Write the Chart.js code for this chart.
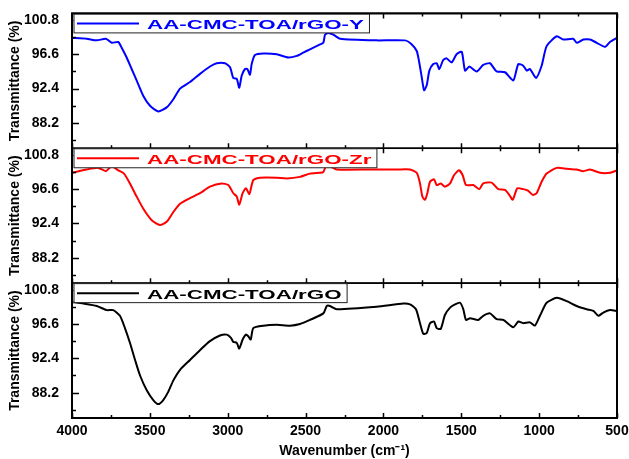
<!DOCTYPE html>
<html>
<head>
<meta charset="utf-8">
<title>FTIR spectra</title>
<script src="https://cdn.jsdelivr.net/npm/chart.js@4.4.1/dist/chart.umd.min.js"></script>
<style>
body { margin: 0; background: #fff; }
canvas { display: block; }
</style>
</head>
<body>
<canvas id="myChart" width="629" height="459"></canvas>
<script>

// wavenumber (cm-1) / transmittance (%) pairs for each sample
const wnY = [4000,3906,3841,3782,3745,3703,3681,3649,3617,3585,3542,3499,3446,3392,3349,3306,3242,3178,3114,3071,3017,2985,2964,2942,2926,2910,2889,2874,2857,2846,2825,2771,2685,2611,2557,2515,2472,2407,2386,2375,2354,2322,2279,2043,1861,1818,1786,1770,1754,1739,1722,1705,1680,1658,1641,1616,1594,1562,1530,1497,1476,1448,1401,1359,1316,1273,1219,1166,1134,1102,1080,1059,1020,984,952,887,845,781,759,716,673,630,577,545,500];
const transY = [98.6,98.5,98.3,98.5,98.0,98.1,97.4,96.2,94.8,93.4,91.5,90.3,89.6,90.1,91.1,92.4,93.2,94.2,95.1,95.5,95.5,95.0,93.7,93.6,92.5,94.0,94.8,94.8,94.1,95.4,96.5,96.7,96.6,96.2,96.4,96.8,97.2,97.8,98.0,99.0,99.2,99.0,98.5,98.3,98.3,97.8,97.0,95.6,93.8,92.2,92.8,94.6,95.4,95.5,94.8,95.9,96.1,95.6,96.6,96.9,94.6,95.1,94.5,95.3,95.5,94.5,94.4,93.4,95.4,95.2,94.6,94.8,93.7,95.2,97.6,98.8,98.4,98.5,98.0,98.4,98.4,98.0,97.5,98.1,98.6];

const wnZr = [4000,3906,3831,3782,3745,3703,3666,3628,3585,3542,3488,3435,3392,3349,3306,3242,3178,3114,3039,2996,2964,2942,2926,2904,2883,2861,2836,2793,2685,2621,2536,2472,2407,2386,2369,2343,2300,2086,1915,1829,1786,1765,1750,1733,1718,1701,1675,1658,1632,1605,1572,1547,1515,1491,1470,1423,1384,1359,1305,1262,1219,1192,1170,1140,1102,1070,1041,1016,984,952,887,823,759,716,673,609,545,500];
const transZr = [98.6,99.0,99.2,98.8,99.4,98.9,98.5,97.3,95.7,94.2,92.8,92.2,92.6,93.8,94.8,95.5,96.1,96.9,97.3,97.1,96.1,95.7,94.7,96.1,96.7,96.0,97.7,98.0,98.0,97.9,98.1,98.5,98.6,98.7,99.4,99.4,99.0,99.0,99.0,99.0,98.6,97.3,95.7,95.3,96.1,97.5,97.8,97.1,97.3,96.9,97.3,98.3,98.9,98.3,97.1,97.1,96.6,97.3,97.4,96.6,96.5,95.9,95.3,96.7,96.6,96.4,95.9,96.1,97.5,98.5,99.2,99.1,99.0,98.8,99.0,98.6,98.6,98.9];

const wnGO = [4000,3927,3841,3777,3735,3692,3660,3628,3595,3563,3520,3478,3446,3414,3382,3349,3306,3242,3178,3114,3050,3006,2979,2964,2942,2926,2904,2883,2868,2852,2836,2771,2685,2600,2536,2472,2386,2364,2343,2300,2043,1872,1829,1791,1765,1744,1722,1701,1675,1658,1632,1605,1572,1540,1508,1487,1470,1444,1391,1359,1316,1273,1230,1166,1134,1102,1059,1027,995,952,887,823,759,695,652,620,588,545,500];
const transGO = [99.3,99.1,98.8,98.3,98.3,97.6,96.1,94.3,92.2,90.3,88.5,87.3,86.8,87.3,88.3,89.7,91.0,92.2,93.4,94.5,95.2,95.3,94.9,94.4,94.3,93.6,94.7,95.3,95.1,94.7,96.1,96.4,96.5,96.4,96.6,97.1,97.9,98.8,98.8,98.4,98.7,99.1,99.0,98.4,96.7,95.4,95.5,96.7,96.9,96.1,96.0,97.7,98.6,99.0,99.2,98.4,97.1,97.3,97.1,97.6,97.9,97.2,97.1,96.2,96.9,96.7,96.8,96.4,97.6,99.2,99.8,99.4,98.8,98.4,98.2,97.6,98.0,98.3,98.2];

const sampleNames = ["AA-CMC-TOA/rGO-Y", "AA-CMC-TOA/rGO-Zr", "AA-CMC-TOA/rGO"];
const sampleColors = ["#0000ff", "#ff0000", "#000000"];

const xTicks = [4000, 3500, 3000, 2500, 2000, 1500, 1000, 500];
const xMinorTicks = [3750, 3250, 2750, 2250, 1750, 1250, 750];
const yTicks = [88.2, 92.4, 96.6, 100.8];
const yMinorTicks = [86.1, 90.3, 94.5, 98.7];

const yMin = 85.1;
const yMax = 101.6;
const font = '"Liberation Sans", Arial, sans-serif';


function toPoints(wn, t){
	let pts = [];
	for(let i = 0; i < wn.length; i++){
		pts.push({x: wn[i], y: t[i]});
	}
	return pts;
}

// one panel per sample, top to bottom
let panels = [
	{axis: "yY", name: sampleNames[0], color: sampleColors[0], data: toPoints(wnY, transY)},
	{axis: "yZr", name: sampleNames[1], color: sampleColors[1], data: toPoints(wnZr, transZr)},
	{axis: "yGO", name: sampleNames[2], color: sampleColors[2], data: toPoints(wnGO, transGO)}
];

function panelAxis(){
	return {
		type: "linear",
		position: "left",
		stack: "spectra",
		stackWeight: 1,
		min: yMin,
		max: yMax,
		afterBuildTicks: s => { s.ticks = yTicks.map(v => ({value: v})); },
		afterFit: s => { s.width = 72; },
		grid: {display: false},
		border: {display: false},
		ticks: {
			color: "#000",
			padding: 5,
			font: {family: font, size: 14, weight: "bold"},
			callback: v => v.toFixed(1)
		},
		title: {
			display: true,
			text: "Transmittance (%)",
			color: "#000",
			padding: {top: 7, bottom: 0},
			font: {family: font, size: 14, weight: "bold"}
		}
	};
}

// frames, inward ticks and the boxed legend of each panel
const panelDecor = {
	id: "panelDecor",
	afterDraw(chart){
		const ctx = chart.ctx;
		const area = chart.chartArea;
		const xs = chart.scales.x;
		const stretch = 1.72;
		ctx.save();
		panels.forEach(p => {
			const ys = chart.scales[p.axis];
			const top = ys.top, bottom = ys.bottom;

			ctx.strokeStyle = "#000";
			ctx.lineWidth = 1.5;
			ctx.strokeRect(area.left, top, area.right - area.left, bottom - top);

			ctx.lineWidth = 1.5;
			ctx.beginPath();
			xTicks.forEach(v => {
				let x = Math.round(xs.getPixelForValue(v)) + 0.5;
				ctx.moveTo(x, top); ctx.lineTo(x, top + 5);
				ctx.moveTo(x, bottom); ctx.lineTo(x, bottom - 5);
			});
			xMinorTicks.forEach(v => {
				let x = Math.round(xs.getPixelForValue(v)) + 0.5;
				ctx.moveTo(x, top); ctx.lineTo(x, top + 3);
				ctx.moveTo(x, bottom); ctx.lineTo(x, bottom - 3);
			});
			yTicks.forEach(v => {
				let y = Math.round(ys.getPixelForValue(v)) + 0.5;
				ctx.moveTo(area.left, y); ctx.lineTo(area.left + 7, y);
			});
			yMinorTicks.forEach(v => {
				let y = Math.round(ys.getPixelForValue(v)) + 0.5;
				ctx.moveTo(area.left, y); ctx.lineTo(area.left + 4, y);
			});
			ctx.stroke();

			// legend
			ctx.font = "bold 13px " + font;
			let textX = area.left + 75;
			let w = ctx.measureText(p.name).width * stretch;
			let boxL = area.left + 1.5, boxR = textX + w + 5;
			ctx.fillStyle = "#fff";
			ctx.fillRect(boxL, top + 0.5, boxR - boxL, 19);
			ctx.strokeStyle = "#222";
			ctx.lineWidth = 1;
			ctx.strokeRect(boxL + 0.5, top + 0.5, boxR - boxL, 19);

			ctx.strokeStyle = p.color;
			ctx.lineWidth = 2;
			ctx.beginPath();
			ctx.moveTo(area.left + 5, top + 10);
			ctx.lineTo(area.left + 67, top + 10);
			ctx.stroke();

			ctx.fillStyle = p.color;
			ctx.textBaseline = "alphabetic";
			ctx.save();
			ctx.translate(textX, top + 15.5);
			ctx.scale(stretch, 1);
			ctx.fillText(p.name, 0, 0);
			ctx.restore();
		});
		ctx.strokeStyle = "#000";
		ctx.lineWidth = 2;
		ctx.strokeRect(area.left, area.top, area.right - area.left, area.bottom - area.top);
		ctx.restore();
	}
};

function drawSpectra(){
	const ctx = document.getElementById("myChart").getContext("2d");

	let datasets = panels.map(p => ({
		label: p.name,
		data: p.data,
		yAxisID: p.axis,
		borderColor: p.color,
		borderWidth: 2,
		pointRadius: 0,
		tension: 0.2,
		fill: false
	}));

	let scales = {
		x: {
			type: "linear",
			position: "bottom",
			reverse: true,
			min: 500,
			max: 4000,
			afterBuildTicks: s => { s.ticks = xTicks.map(v => ({value: v})); },
			afterFit: s => { s.height = 41; },
			grid: {display: false},
			border: {display: false},
			ticks: {
				color: "#000",
				padding: -3,
				maxRotation: 0,
				autoSkip: false,
				font: {family: font, size: 14, weight: "bold"},
				callback: v => String(v)
			},
			title: {
				display: true,
				text: "Wavenumber (cm\u207B\u00B9)",
				color: "#000",
				padding: {top: 0, bottom: -1},
				font: {family: font, size: 14, weight: "bold"}
			}
		}
	};
	// stacked left axes are laid out last-defined first, so add the bottom panel first
	panels.slice().reverse().forEach(p => { scales[p.axis] = panelAxis(); });

	return new Chart(ctx, {
		type: "line",
		data: {datasets: datasets},
		options: {
			responsive: false,
			animation: false,
			devicePixelRatio: 1,
			layout: {padding: {top: 12, right: 12, left: 0, bottom: 0}},
			plugins: {legend: {display: false}, tooltip: {enabled: false}},
			scales: scales
		},
		plugins: [panelDecor]
	});
}

drawSpectra();

</script>
</body>
</html>
